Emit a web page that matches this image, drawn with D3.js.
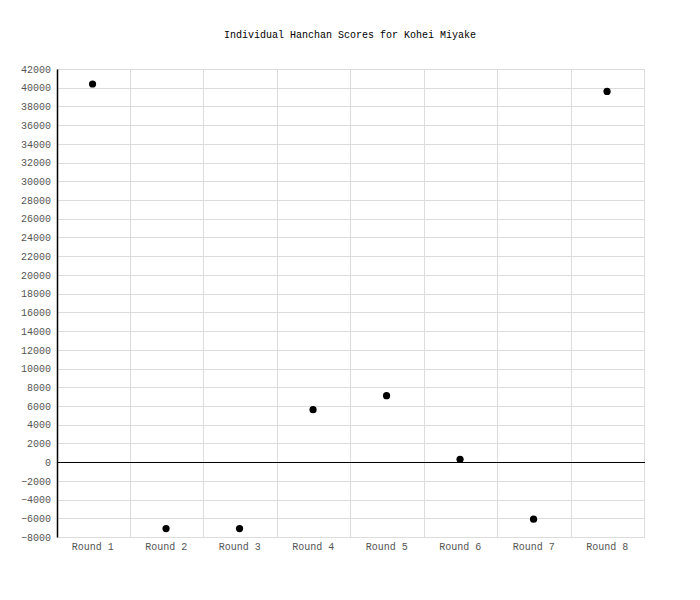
<!DOCTYPE html>
<html>
<head>
<meta charset="utf-8">
<script src="https://cdn.jsdelivr.net/npm/d3@7"></script>
<style>
  body { margin: 0; background: #fff; }
  text { font-family: "Liberation Mono", "DejaVu Sans Mono", monospace; }
</style>
</head>
<body>
<svg></svg>
<script>
const rounds = ["Round 1", "Round 2", "Round 3", "Round 4", "Round 5", "Round 6", "Round 7", "Round 8"];
const scores = [40400, -7100, -7100, 5600, 7100, 300, -6100, 39600];
const yTicks = d3.range(-8000, 42001, 2000);

// plot area
const plotLeft = 57, plotRight = 645, plotTop = 69, plotBottom = 537;

const svg = d3.select('svg')
    .attr('width', 700)
    .attr('height', 600);

const xScale = d3.scaleBand()
    .range([plotLeft, plotRight])
    .domain(rounds);

const yScale = d3.scaleLinear()
    .range([plotBottom, plotTop])
    .domain([-8000, 42000]);

// horizontal grid
svg.append('g')
    .selectAll('line')
    .data(yTicks)
    .enter()
    .append('line')
    .attr('x1', plotLeft)
    .attr('x2', plotRight)
    .attr('y1', d => Math.round(yScale(d)) + 0.5)
    .attr('y2', d => Math.round(yScale(d)) + 0.5)
    .attr('stroke', '#dcdcdc');

// vertical grid at band edges
svg.append('g')
    .selectAll('line')
    .data(rounds.slice(1).concat(['end']))
    .enter()
    .append('line')
    .attr('x1', d => Math.round(d === 'end' ? plotRight : xScale(d)) - 0.5)
    .attr('x2', d => Math.round(d === 'end' ? plotRight : xScale(d)) - 0.5)
    .attr('y1', plotTop)
    .attr('y2', plotBottom)
    .attr('stroke', '#dcdcdc');

// zero line
svg.append('line')
    .attr('x1', plotLeft)
    .attr('x2', plotRight)
    .attr('y1', Math.round(yScale(0)) + 0.5)
    .attr('y2', Math.round(yScale(0)) + 0.5)
    .attr('stroke', '#000');

// y axis
const yAxis = svg.append('g')
    .attr('transform', `translate(${plotLeft}, 0)`)
    .call(d3.axisLeft(yScale).tickValues(yTicks).tickSize(0).tickPadding(6).tickFormat(d3.format('d')));
yAxis.select('.domain').attr('stroke', '#000').attr('stroke-width', 1.5);
yAxis.selectAll('text')
    .attr('fill', '#555')
    .style('font-size', '10px')
    .style('font-family', '"Liberation Mono", monospace');

// x axis
const xAxis = svg.append('g')
    .attr('transform', `translate(-1, ${plotBottom})`)
    .call(d3.axisBottom(xScale).tickSize(0).tickPadding(6));
xAxis.select('.domain').remove();
xAxis.selectAll('text')
    .attr('fill', '#555')
    .style('font-size', '10px')
    .style('font-family', '"Liberation Mono", monospace');

// title
svg.append('text')
    .attr('x', 350)
    .attr('y', 38)
    .attr('text-anchor', 'middle')
    .style('font-size', '10px')
    .attr('fill', '#000')
    .text('Individual Hanchan Scores for Kohei Miyake');

// points
svg.append('g')
    .selectAll('circle')
    .data(scores)
    .enter()
    .append('circle')
    .attr('cx', (d, i) => xScale(rounds[i]) + xScale.bandwidth() / 2 - 1.2)
    .attr('cy', d => yScale(d))
    .attr('r', 3.6)
    .attr('fill', '#000');
</script>
</body>
</html>
